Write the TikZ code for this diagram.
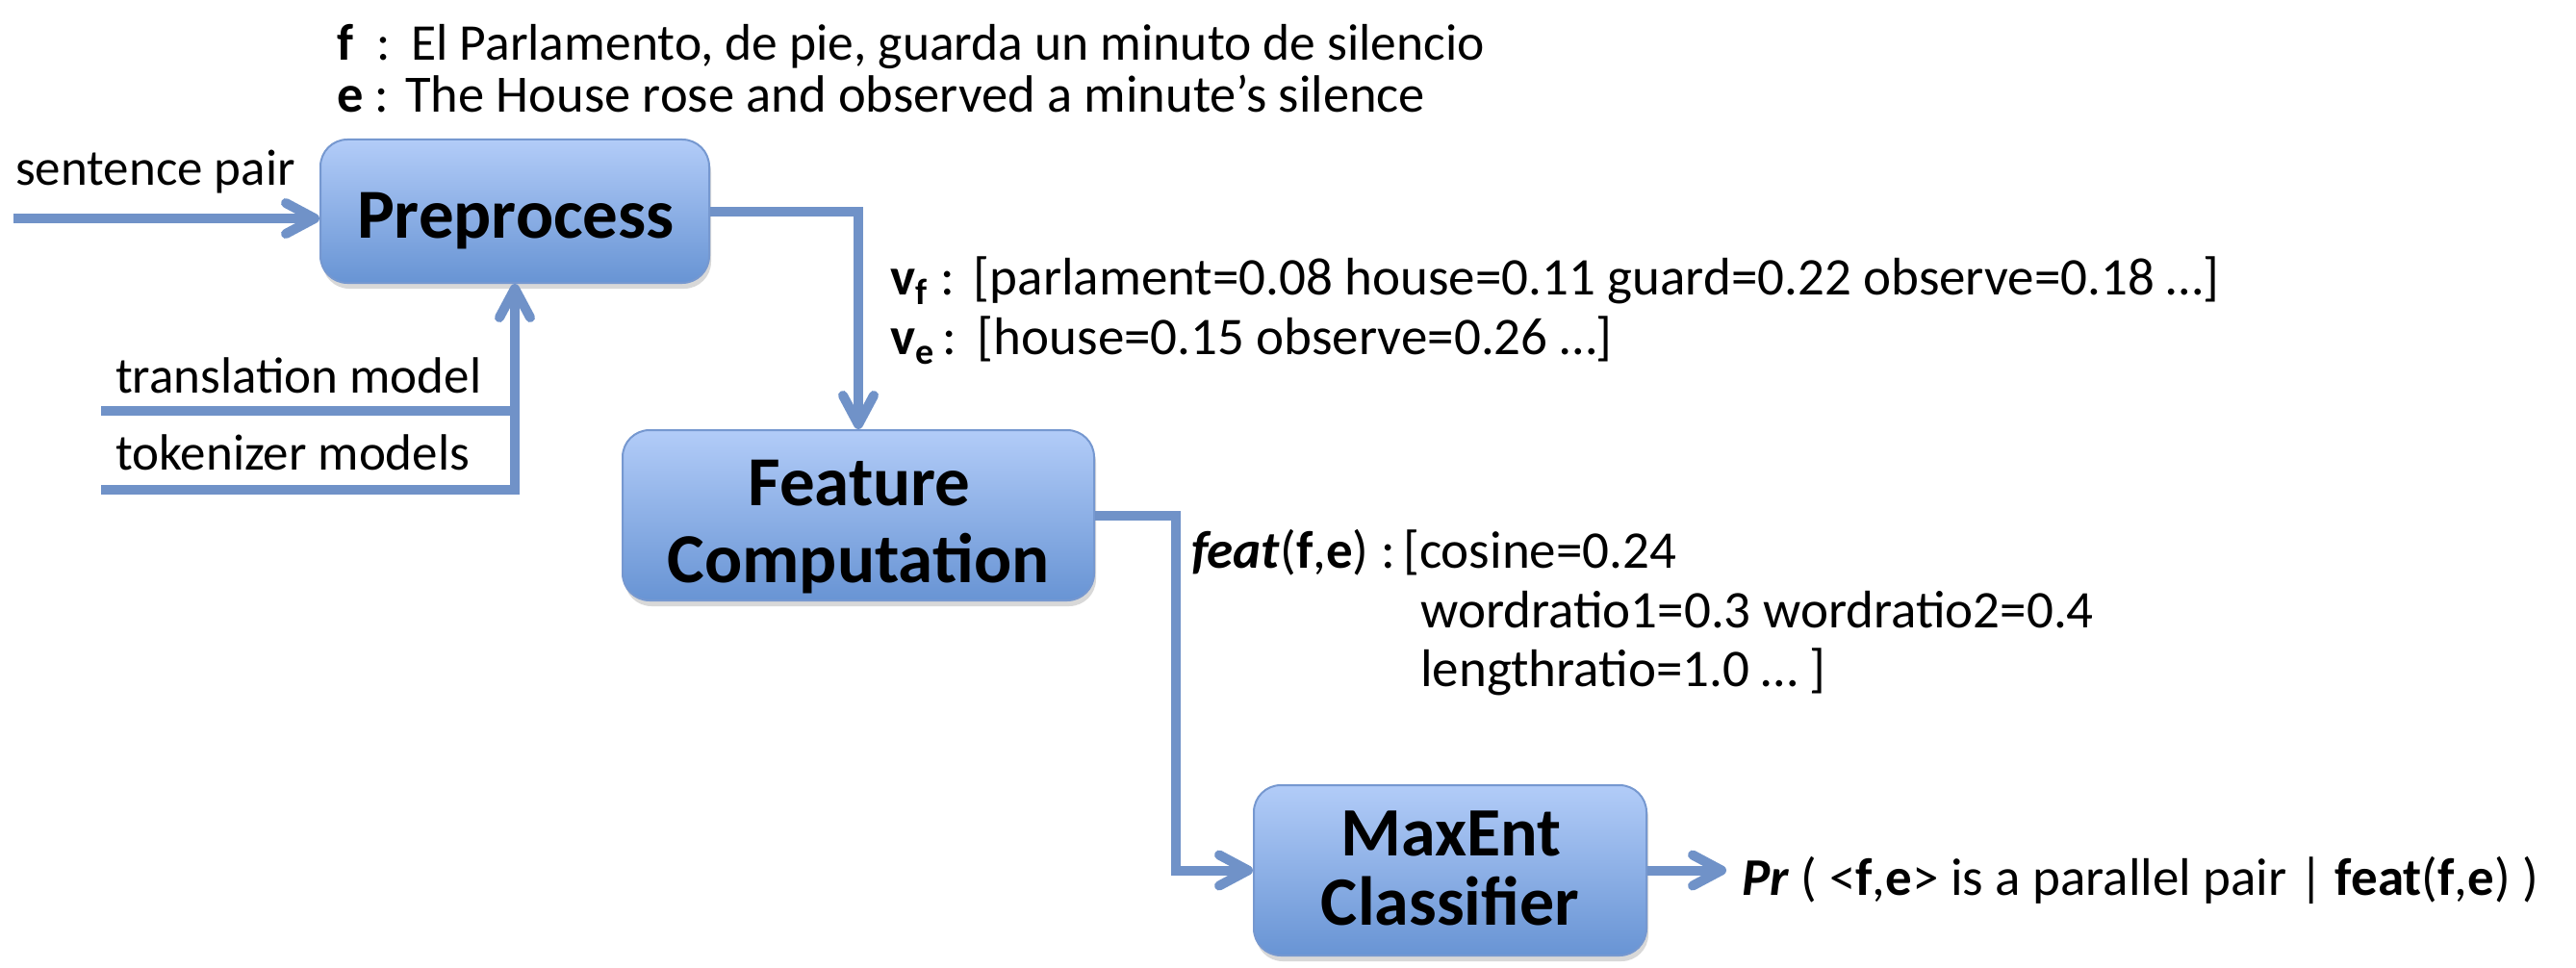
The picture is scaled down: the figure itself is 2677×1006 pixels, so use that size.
\documentclass[tikz,border=0pt]{standalone}
\usepackage{fontspec}
\setmainfont{Carlito}
\usetikzlibrary{arrows.meta,shadows}
\definecolor{lc}{RGB}{112,146,200}
\definecolor{boxtop}{RGB}{178,204,248}
\definecolor{boxbot}{RGB}{104,148,212}
\definecolor{boxline}{RGB}{118,152,208}
\begin{document}
\begin{tikzpicture}[x=1pt,y=-1pt,
  box/.style={draw=boxline, line width=2pt, rounded corners=28pt,
    top color=boxtop, bottom color=boxbot,
    drop shadow={opacity=0.3, shadow xshift=2pt, shadow yshift=-6pt},
    inner sep=0pt},
  boxtxt/.style={font=\fontsize{73}{80}\selectfont\bfseries, anchor=base, inner sep=0pt},
  boxtxtb/.style={font=\fontsize{72}{78}\selectfont\bfseries, anchor=base, inner sep=0pt},
  txt/.style={font=\fontsize{53}{60}\selectfont, anchor=base west, inner sep=0pt},
  txtb/.style={txt, font=\fontsize{55}{60}\selectfont},
  ln/.style={draw=lc, line width=10pt, line join=miter,
    preaction={draw=black!14, transform canvas={shift={(2pt,-3pt)}}}},
  conn/.style={ln, -{Straight Barb[length=30pt,width=32pt,round]}}]
\fill[white] (0,0) rectangle (2677,1006);
\useasboundingbox (0,0) rectangle (2677,1006);

% boxes
\node[box, minimum width=404pt, minimum height=149pt] (pre) at (535,219.5) {};
\node[boxtxt] (pret) at (536,247) {Preprocess};
\node[box, minimum width=490pt, minimum height=177pt] (feat) at (892,535.5) {};
\node[boxtxt] (featt1) at (893,525) {Feature};
\node[boxtxt] (featt2) at (892,605) {Computation};
\node[box, minimum width=408pt, minimum height=177pt] (maxent) at (1507,904.5) {};
\node[boxtxtb] (mt1) at (1508,889) {MaxEnt};
\node[boxtxtb] (mt2) at (1507,961) {Classifier};

% texts
\node[txt, font=\fontsize{53.5}{60}\selectfont] (fl) at (350,63) {\textbf{f}\hspace{24pt}:\hspace{22pt}El Parlamento, de pie, guarda un minuto de silencio};
\node[txt, font=\fontsize{54.5}{60}\selectfont] (el) at (350,117) {\textbf{e}\hspace{12pt}:\hspace{17pt}The House rose and observed a minute’s silence};
\node[txt] (sp) at (16,192) {sentence pair};
\node[txt] (tml) at (120,408) {translation model};
\node[txt] (tkl) at (120,488) {tokenizer models};
\node[txtb] (vf) at (925,306) {\makebox[52pt][l]{\textbf{v}\raisebox{-10pt}{\fontsize{38}{38}\selectfont\textbf{f}}}:\hspace{20pt}[parlament=0.08 house=0.11 guard=0.22 observe=0.18 …]};
\node[txtb] (ve) at (925,368) {\makebox[54pt][l]{\textbf{v}\raisebox{-10pt}{\fontsize{38}{38}\selectfont\textbf{e}}}:\hspace{22pt}[house=0.15 observe=0.26 …]};
\node[txtb, anchor=base east] (flab) at (1450,590) {\textbf{\textit{feat}}(\textbf{f},\textbf{e})\ :};
\node[txtb] (fv1) at (1458,590) {[cosine=0.24};
\node[txtb] (fv2) at (1476,652) {wordratio1=0.3 wordratio2=0.4};
\node[txtb] (fv3) at (1476,713) {lengthratio=1.0 … ]};
\node[txtb] (pr) at (1810,930) {\textbf{\textit{Pr}} ( <\textbf{f},\textbf{e}> is a parallel pair | \textbf{feat}(\textbf{f},\textbf{e}) )};

% connectors
\coordinate (spin) at (14,227);
\coordinate (tm) at (105,427);
\coordinate (tk) at (105,509);
\draw[conn] (spin) -- (spin -| pre.west);
\draw[conn] (pre.east) -| (feat.north);
\draw[ln] (tm) -- (tm -| pre.south);
\draw[conn] (tk) -| (pre.south);
\draw[conn] (feat.east) -- ++(84,0) |- (maxent.west);
\draw[conn, shorten >=16pt] (maxent.east) -- (maxent.east -| pr.west);
\end{tikzpicture}
\end{document}
